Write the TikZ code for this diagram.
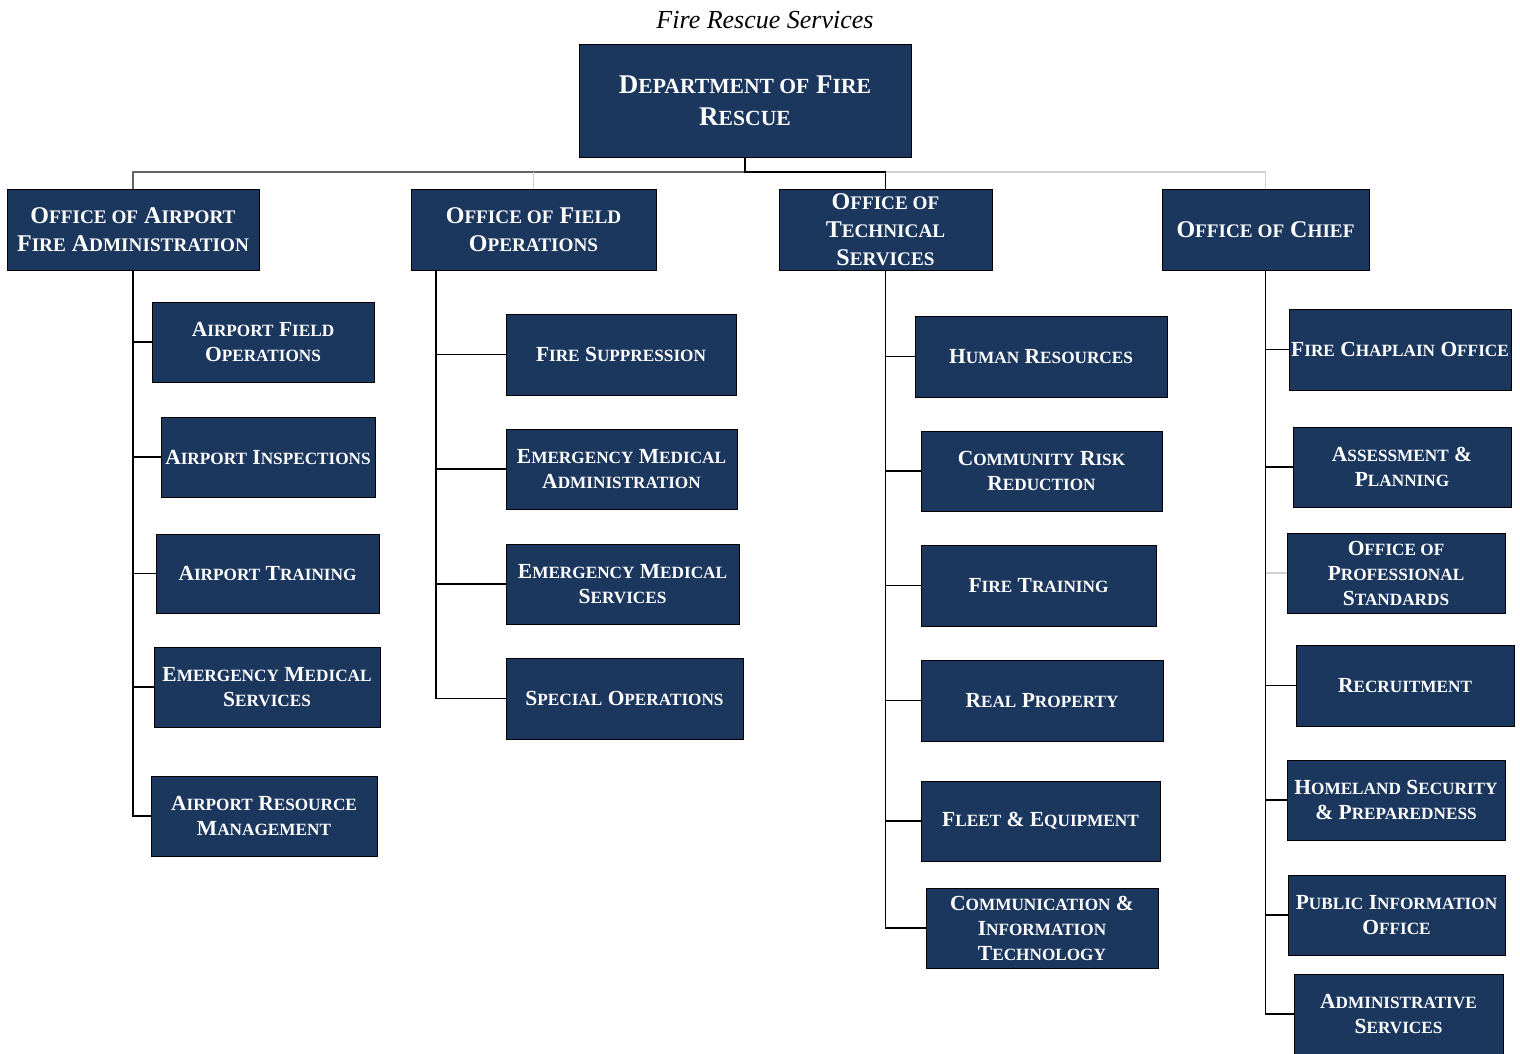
\documentclass[tikz,border=0pt]{standalone}
\usepackage{fontspec}
\setmainfont{Liberation Serif}
\makeatletter
\newcommand\smc[1]{{\fontsize{\fpeval{0.8*\f@size}}{\f@baselineskip}\selectfont #1}}
\makeatother
\definecolor{navy}{RGB}{27,55,94}
\definecolor{dgrey}{RGB}{100,100,100}
\definecolor{lgrey}{RGB}{208,208,208}
\tikzset{
  box/.style={draw=black, line width=0.9pt, fill=navy, text=white, align=center, inner sep=1pt},
  topbox/.style={box, font=\bfseries\fontsize{27}{32}\selectfont},
  offbox/.style={box, font=\bfseries\fontsize{24}{28}\selectfont},
  subbox/.style={box, font=\bfseries\fontsize{21.5}{25}\selectfont},
  conn/.style={draw=black, line width=1.5pt},
  gconn/.style={draw=dgrey, line width=1.2pt},
  lconn/.style={draw=lgrey, line width=1.2pt},
}
\newcommand\bx[6]{\node[#1, minimum width={(#4-#2)*1pt}, minimum height={(#5-#3)*1pt}] (#6) at ({(#2+#4)/2},{(#3+#5)/2})}
\begin{document}
\begin{tikzpicture}[x=1pt,y=-1pt]
\clip (0,0) rectangle (1520,1053);
\useasboundingbox (0,0) rectangle (1520,1053);
\node[font=\itshape\fontsize{26}{30}\selectfont, anchor=base] (title) at (765,28) {Fire Rescue Services};
\bx{topbox}{579}{44}{911}{157}{top} {D\smc{EPARTMENT OF} F\smc{IRE}\\R\smc{ESCUE}};
% offices
\bx{offbox}{7}{189}{259}{270}{o1} {O\smc{FFICE OF} A\smc{IRPORT}\\F\smc{IRE} A\smc{DMINISTRATION}};
\bx{offbox}{411}{189}{656}{270}{o2} {O\smc{FFICE OF} F\smc{IELD}\\O\smc{PERATIONS}};
\bx{offbox}{779}{189}{992}{270}{o3} {O\smc{FFICE OF}\\T\smc{ECHNICAL}\\S\smc{ERVICES}};
\bx{offbox}{1162}{189}{1369}{270}{o4} {O\smc{FFICE OF} C\smc{HIEF}};
% column 1
\bx{subbox}{152}{302}{374}{382}{c1a} {A\smc{IRPORT} F\smc{IELD}\\O\smc{PERATIONS}};
\bx{subbox}{161}{417}{375}{497}{c1b} {A\smc{IRPORT} I\smc{NSPECTIONS}};
\bx{subbox}{156}{534}{379}{613}{c1c} {A\smc{IRPORT} T\smc{RAINING}};
\bx{subbox}{154}{647}{380}{727}{c1d} {E\smc{MERGENCY} M\smc{EDICAL}\\S\smc{ERVICES}};
\bx{subbox}{151}{776}{377}{856}{c1e} {A\smc{IRPORT} R\smc{ESOURCE}\\M\smc{ANAGEMENT}};
% column 2
\bx{subbox}{506}{314}{736}{395}{c2a} {F\smc{IRE} S\smc{UPPRESSION}};
\bx{subbox}{506}{429}{737}{509}{c2b} {E\smc{MERGENCY} M\smc{EDICAL}\\A\smc{DMINISTRATION}};
\bx{subbox}{506}{544}{739}{624}{c2c} {E\smc{MERGENCY} M\smc{EDICAL}\\S\smc{ERVICES}};
\bx{subbox}{506}{658}{743}{739}{c2d} {S\smc{PECIAL} O\smc{PERATIONS}};
% column 3
\bx{subbox}{915}{316}{1167}{397}{c3a} {H\smc{UMAN} R\smc{ESOURCES}};
\bx{subbox}{921}{431}{1162}{511}{c3b} {C\smc{OMMUNITY} R\smc{ISK}\\R\smc{EDUCTION}};
\bx{subbox}{921}{545}{1156}{626}{c3c} {F\smc{IRE} T\smc{RAINING}};
\bx{subbox}{921}{660}{1163}{741}{c3d} {R\smc{EAL} P\smc{ROPERTY}};
\bx{subbox}{921}{781}{1160}{861}{c3e} {F\smc{LEET} \& E\smc{QUIPMENT}};
\bx{subbox}{926}{888}{1158}{968}{c3f} {C\smc{OMMUNICATION} \&\\I\smc{NFORMATION}\\T\smc{ECHNOLOGY}};
% column 4
\bx{subbox}{1289}{309}{1511}{390}{c4a} {F\smc{IRE} C\smc{HAPLAIN} O\smc{FFICE}};
\bx{subbox}{1293}{427}{1511}{507}{c4b} {A\smc{SSESSMENT} \&\\P\smc{LANNING}};
\bx{subbox}{1287}{533}{1505}{613}{c4c} {O\smc{FFICE OF}\\P\smc{ROFESSIONAL}\\S\smc{TANDARDS}};
\bx{subbox}{1296}{645}{1514}{726}{c4d} {R\smc{ECRUITMENT}};
\bx{subbox}{1287}{760}{1505}{840}{c4e} {H\smc{OMELAND} S\smc{ECURITY}\\\& P\smc{REPAREDNESS}};
\bx{subbox}{1288}{875}{1505}{955}{c4f} {P\smc{UBLIC} I\smc{NFORMATION}\\O\smc{FFICE}};
\bx{subbox}{1294}{974}{1503}{1054}{c4g} {A\smc{DMINISTRATIVE}\\S\smc{ERVICES}};
% top connectors
\coordinate (bar) at (745,172);
\draw[gconn] (o1.north) |- (bar);
\draw[lconn] (o3.north |- bar) -| (o4.north);
\draw[lconn] (o2.north) -- (o2.north |- bar);
\draw[conn] (top.south) |- (o3.north |- bar) -- (o3.north);
% trunks
\draw[conn] (o1.south) |- (c1e.west);
\foreach \n in {c1a,c1b,c1c,c1d} \draw[conn] (o1.south |- \n.west) -- (\n.west);
\draw[conn] ([xshift=-97.5pt]o2.south) |- (c2d.west);
\foreach \n in {c2a,c2b,c2c} \draw[conn] ([xshift=-97.5pt]o2.south |- \n.west) -- (\n.west);
\draw[conn] (o3.south) |- (c3f.west);
\foreach \n in {c3a,c3b,c3c,c3d,c3e} \draw[conn] (o3.south |- \n.west) -- (\n.west);
\draw[conn] (o4.south) |- (c4g.west);
\foreach \n in {c4a,c4b,c4d,c4e,c4f} \draw[conn] (o4.south |- \n.west) -- (\n.west);
\draw[lconn] (o4.south |- c4c.west) -- (c4c.west);
\end{tikzpicture}
\end{document}
